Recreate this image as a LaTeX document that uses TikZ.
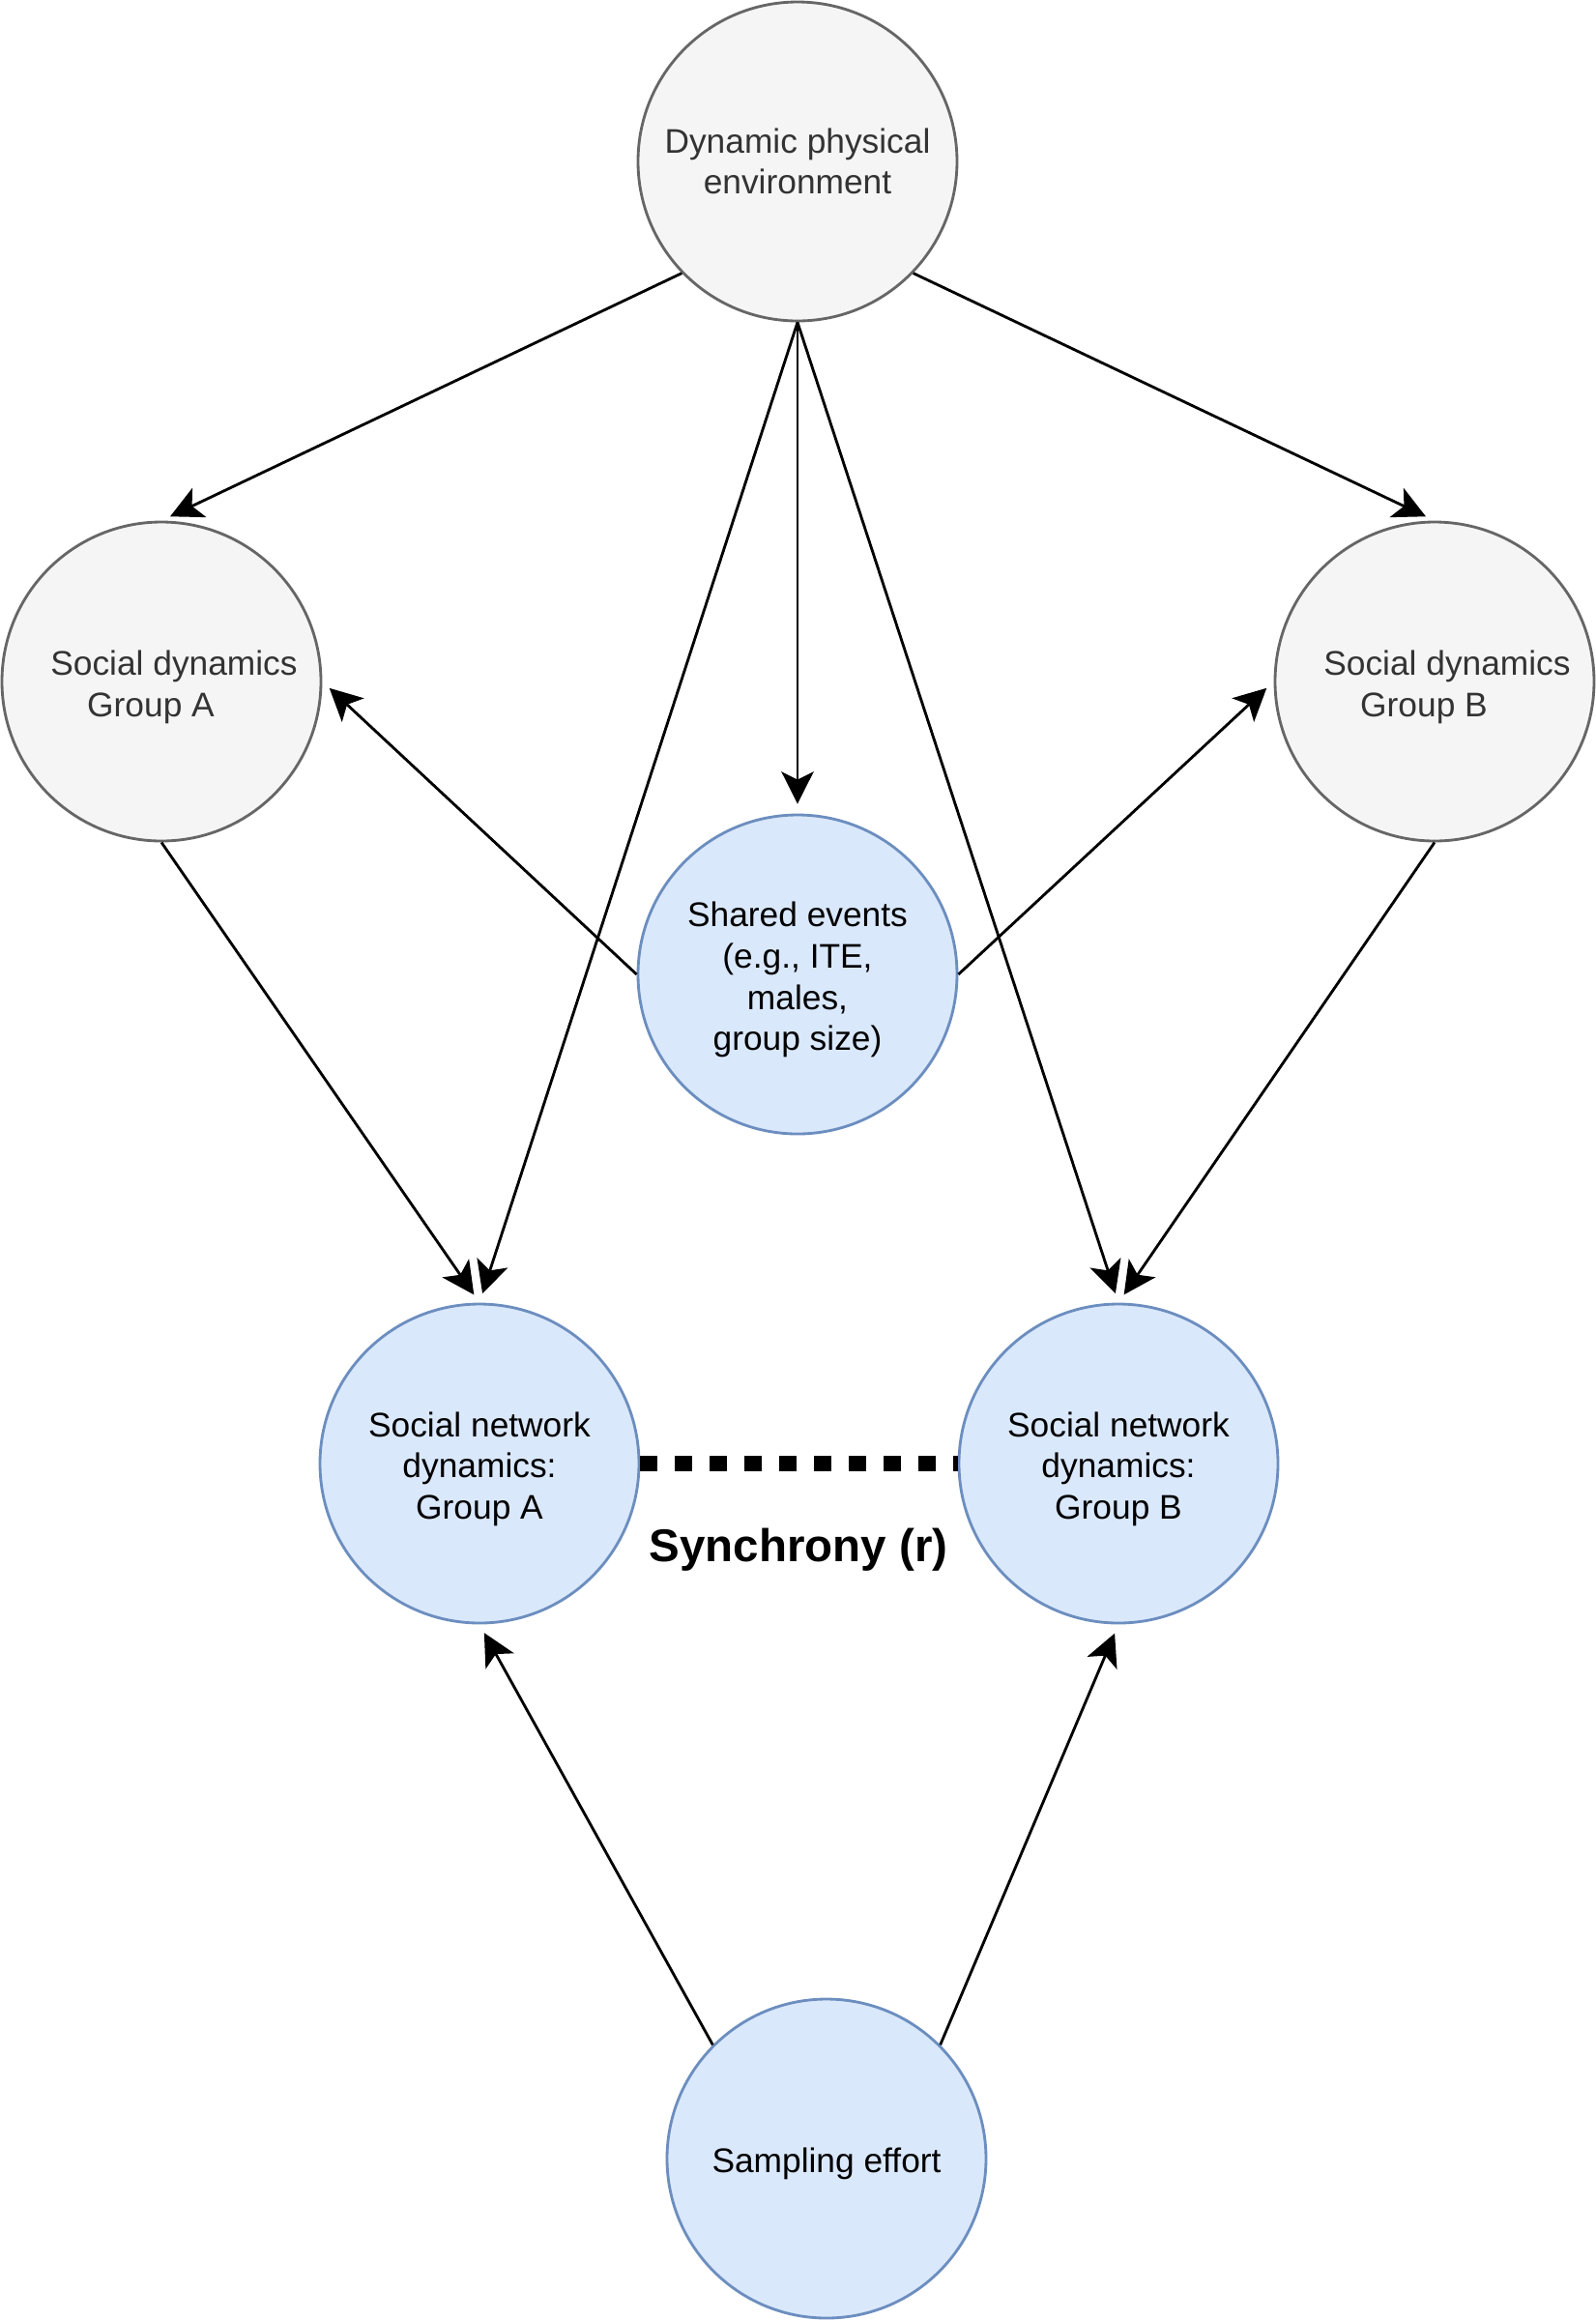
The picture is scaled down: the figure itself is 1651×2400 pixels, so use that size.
\documentclass[tikz,border=0pt]{standalone}
\usepackage{fontspec}
\setmainfont{Liberation Sans}
\usetikzlibrary{arrows.meta}
\definecolor{grayfill}{HTML}{F5F5F5}
\definecolor{graydraw}{HTML}{666666}
\definecolor{graytext}{HTML}{333333}
\definecolor{bluefill}{HTML}{DAE8FC}
\definecolor{bluedraw}{HTML}{6C8EBF}
% taller first line, so the label sits a little lower in its circle
\newcommand\padtop{\rule{0pt}{11pt}}

\begin{document}
\begin{tikzpicture}[x=0.3pt,y=-0.3pt,
  base/.style={circle, minimum size=99pt, inner sep=0pt, line width=0.85pt,
    align=center, font=\fontsize{10.6pt}{12.8pt}\selectfont},
  graynode/.style={base, fill=grayfill, draw=graydraw, text=graytext},
  bluenode/.style={base, fill=bluefill, draw=bluedraw, text=black},
  link/.style={line width=0.85pt, -{Stealth[length=10pt,width=10pt,inset=2.5pt]},
    shorten >=3pt},
  syncline/.style={line width=5pt, dash pattern=on 5.2pt off 5.6pt}]

\useasboundingbox (0,0) rectangle (1651,2400);

% nodes
\node[graynode] (env) at (825,167) {Dynamic physical\\environment};
\node[graynode] (socA) at (167,705)
  {\padtop\hspace*{7.8pt}Social dynamics\\Group A\hspace*{6.6pt}};
\node[graynode] (socB) at (1484,705)
  {\padtop\hspace*{7.8pt}Social dynamics\\Group B\hspace*{6.6pt}};
\node[bluenode] (shared) at (825,1008)
  {\padtop Shared events\\(e.g., ITE,\\males,\hspace*{3pt}\\group size)};
\node[bluenode] (netA) at (496,1514) {\padtop Social network\\dynamics:\\Group A};
\node[bluenode] (netB) at (1157,1514) {\padtop Social network\\dynamics:\\Group B};
\node[bluenode] (samp) at (855,2233) {\padtop Sampling effort};
\node[font=\fontsize{14.25pt}{17pt}\selectfont\bfseries] (synclabel) at (826,1603)
  {Synchrony (r)};

% connectors
\draw[link] (env.224) -- (socA.north);
\draw[link] (env.316) -- (socB.north);
\draw[link] (env.south) -- (shared.north);
\draw[link] (env.south) -- (netA.north);
\draw[link] (env.south) -- (netB.north);
\draw[link] (socA.south) -- (netA.north);
\draw[link] (socB.south) -- (netB.north);
\draw[link] (shared.west) -- (socA.east);
\draw[link] (shared.east) -- (socB.west);
\draw[link] (samp.135) -- (netA.south);
\draw[link] (samp.45) -- (netB.south);
\draw[syncline] (netA.east) -- (netB.west);

\end{tikzpicture}
\end{document}
